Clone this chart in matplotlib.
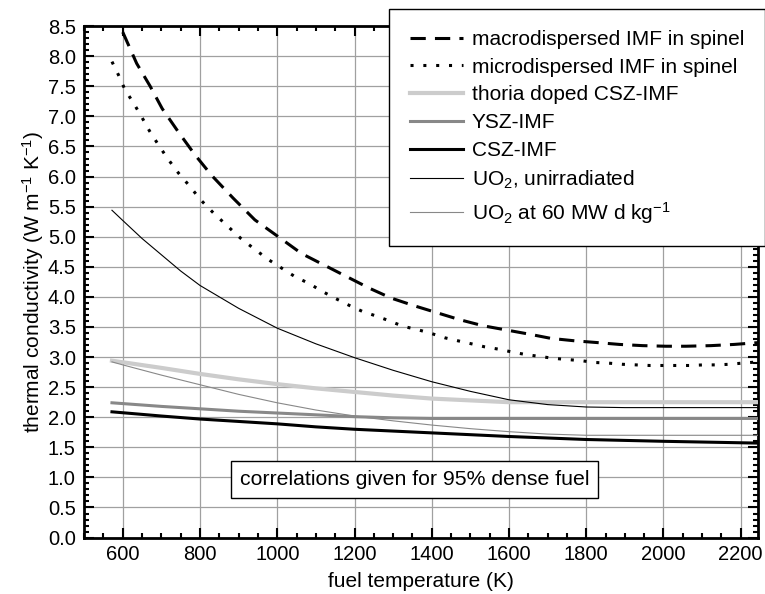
import numpy as np
import matplotlib
matplotlib.use("Agg")
import matplotlib.pyplot as plt
from matplotlib.ticker import MultipleLocator

plt.rcParams["font.family"] = ["Liberation Sans", "DejaVu Sans"]
plt.rcParams["mathtext.fontset"] = "custom"
plt.rcParams["mathtext.rm"] = "Liberation Sans"
plt.rcParams["mathtext.it"] = "Liberation Sans:italic"
plt.rcParams["mathtext.default"] = "regular"

# veriler
macro_T = [600, 636, 671, 702, 744, 787, 830, 886, 942, 1007, 1063, 1124, 1188, 1240, 1295,
           1356, 1417, 1473, 1533, 1593, 1653, 1709, 1770, 1830, 1886, 1946, 2006, 2058, 2123,
           2183, 2245]
macro_k = [8.40, 7.88, 7.50, 7.13, 6.74, 6.36, 6.02, 5.64, 5.28, 4.98, 4.72, 4.52, 4.31, 4.14, 3.98,
           3.85, 3.73, 3.62, 3.52, 3.45, 3.38, 3.31, 3.27, 3.24, 3.21, 3.19, 3.18, 3.18, 3.19,
           3.21, 3.24]

micro_T = [572, 591, 606, 628, 649, 669, 692, 716, 744, 772, 802, 834, 869, 906, 940, 977, 1011,
           1045, 1083, 1117, 1152, 1186, 1220, 1257, 1291, 1326, 1361, 1400, 1434, 1468, 1503,
           1537, 1574, 1611, 1645, 1680, 1714, 1749, 1787, 1822, 1856, 1893, 1929, 1964, 1998,
           2033, 2067, 2104, 2136, 2171, 2205, 2245]
micro_k = [7.91, 7.66, 7.44, 7.22, 6.99, 6.76, 6.53, 6.30, 6.06, 5.85, 5.61, 5.40, 5.19, 4.97, 4.80,
           4.62, 4.48, 4.34, 4.22, 4.09, 3.97, 3.86, 3.76, 3.68, 3.60, 3.51, 3.46, 3.39, 3.32,
           3.27, 3.22, 3.17, 3.13, 3.08, 3.04, 3.01, 2.98, 2.96, 2.94, 2.91, 2.90, 2.88, 2.87,
           2.86, 2.86, 2.86, 2.86, 2.87, 2.87, 2.88, 2.90, 2.92]

thoria_T = [572, 700, 800, 900, 1000, 1100, 1200, 1300, 1400, 1500, 1600, 1700, 2245]
thoria_k = [2.94, 2.82, 2.72, 2.63, 2.55, 2.48, 2.42, 2.36, 2.31, 2.28, 2.25, 2.25, 2.25]

ysz_T = [572, 700, 800, 900, 1000, 1100, 1200, 1300, 1400, 1600, 2245]
ysz_k = [2.24, 2.18, 2.14, 2.10, 2.07, 2.04, 2.01, 1.99, 1.98, 1.98, 1.98]

csz_T = [572, 700, 800, 900, 1000, 1100, 1200, 1300, 1400, 1600, 1800, 2000, 2245]
csz_k = [2.09, 2.02, 1.97, 1.93, 1.89, 1.84, 1.80, 1.77, 1.74, 1.68, 1.63, 1.60, 1.57]

uo2_T = [572, 600, 650, 700, 750, 800, 900, 1000, 1100, 1200, 1300, 1400, 1500, 1600, 1700,
         1800, 1900, 2000, 2245]
uo2_k = [5.44, 5.27, 4.97, 4.70, 4.43, 4.19, 3.81, 3.48, 3.22, 2.99, 2.78, 2.59, 2.43, 2.29, 2.21,
         2.17, 2.16, 2.16, 2.16]

uo2_60_T = [572, 600, 700, 800, 900, 1000, 1100, 1200, 1300, 1400, 1500, 1600, 1700, 1800, 2245]
uo2_60_k = [2.92, 2.87, 2.70, 2.54, 2.38, 2.24, 2.12, 2.02, 1.94, 1.87, 1.81, 1.76, 1.72, 1.70, 1.70]

fig = plt.figure(figsize=(7.65, 5.94), dpi=100)
ax = fig.add_axes([0.110, 0.095, 0.881, 0.861])

ax.plot(macro_T, macro_k, color="black", lw=2.2, dashes=(5, 3), label="macrodispersed IMF in spinel", zorder=5)
ax.plot(micro_T, micro_k, color="black", lw=2.2, dashes=(1, 3.2), label="microdispersed IMF in spinel", zorder=5)
ax.plot(thoria_T, thoria_k, color="#cccccc", lw=3.0, label="thoria doped CSZ-IMF", zorder=3)
ax.plot(ysz_T, ysz_k, color="#888888", lw=2.2, label="YSZ-IMF", zorder=4)
ax.plot(csz_T, csz_k, color="black", lw=2.2, label="CSZ-IMF", zorder=4)
ax.plot(uo2_T, uo2_k, color="black", lw=0.8, label="UO$_2$, unirradiated", zorder=4)
ax.plot(uo2_60_T, uo2_60_k, color="#888888", lw=0.8, label="UO$_2$ at 60 MW d kg$^{-1}$", zorder=4)

ax.set_xlim(500, 2245)
ax.set_ylim(0, 8.5)
ax.xaxis.set_major_locator(MultipleLocator(200))
ax.xaxis.set_minor_locator(MultipleLocator(50))
ax.yaxis.set_major_locator(MultipleLocator(0.5))
ax.yaxis.set_minor_locator(MultipleLocator(0.1))
ax.yaxis.set_major_formatter(matplotlib.ticker.FormatStrFormatter("%.1f"))
ax.tick_params(which="both", direction="in", top=True, right=True, width=1.5, labelsize=14.5)
ax.tick_params(which="major", length=7)
ax.tick_params(which="minor", length=3.7)
ax.tick_params(axis="x", which="major", pad=5)
ax.tick_params(axis="y", which="major", pad=6)
for s in ax.spines.values():
    s.set_linewidth(2.0)
ax.grid(True, which="major", color="#a0a0a0", lw=0.9)
ax.set_axisbelow(True)

ax.set_xlabel("fuel temperature (K)", fontsize=15, labelpad=6)
ax.set_ylabel("thermal conductivity (W m$^{-1}$ K$^{-1}$)", fontsize=15, labelpad=1)

leg = ax.legend(loc="upper left", bbox_to_anchor=(389 / 765, 1 - 9 / 594), bbox_transform=fig.transFigure,
                fontsize=15, frameon=True, fancybox=False, framealpha=1, edgecolor="black",
                handlelength=2.55, handletextpad=0.43, labelspacing=0.42, borderpad=1.0, borderaxespad=0)
leg.get_frame().set_linewidth(1.0)
leg.set_zorder(10)

ax.text(1355, 0.96, "correlations given for 95% dense fuel", fontsize=15.3, ha="center", va="center",
        bbox=dict(boxstyle="square,pad=0.42", facecolor="white", edgecolor="black", lw=1.0), zorder=6)

fig.savefig("out.png", dpi=100)
